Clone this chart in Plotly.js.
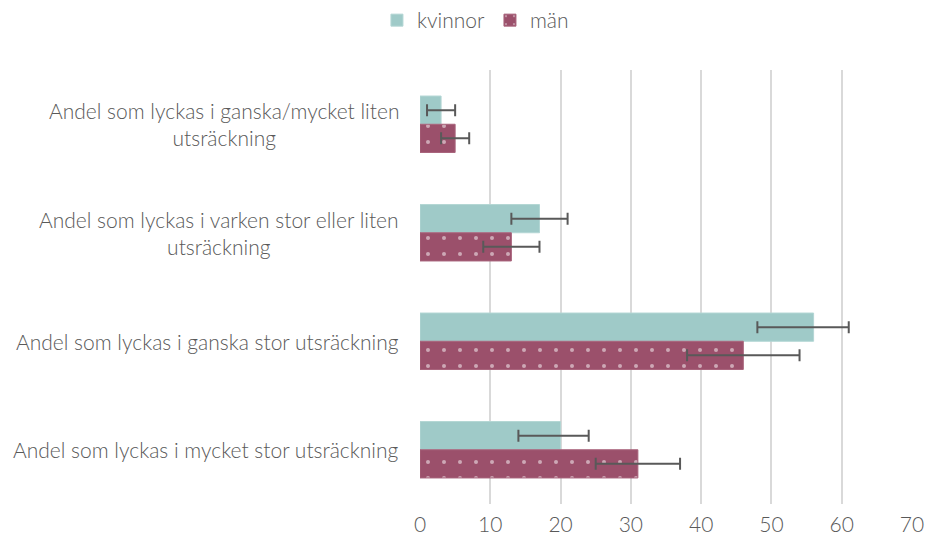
<!DOCTYPE html>
<html>
<head>
<meta charset="utf-8">
<script src="https://cdn.plot.ly/plotly-3.0.1.min.js"></script>
<style>html,body{margin:0;padding:0;background:#fff;}#chart{width:925px;height:540px;}</style>
</head>
<body>
<div id="chart"></div>
<script>
const categories = [
  "Andel som lyckas i ganska/mycket liten<br>utsräckning",
  "Andel som lyckas i varken stor eller liten<br>utsräckning",
  "Andel som lyckas i ganska stor utsräckning",
  "Andel som lyckas i mycket stor utsräckning"
];
const kvinnor = [3, 17, 56, 20];
const kvinnorErrPlus = [2, 4, 5, 4];
const kvinnorErrMinus = [2, 4, 8, 6];
const man = [5, 13, 46, 31];
const manErrPlus = [2, 4, 8, 6];
const manErrMinus = [2, 4, 8, 6];
const xTicks = [0, 10, 20, 30, 40, 50, 60, 70];

const FONT = "Lato, 'Open Sans', sans-serif";
const TXT = "#595959";

const errStyle = {type: "data", symmetric: false, color: "#595959", thickness: 2, width: 6};

const traces = [
  {
    type: "bar", orientation: "h", name: "kvinnor",
    y: categories, x: kvinnor,
    marker: {color: "#9FCAC8", line: {color: "#B3D6D4", width: 1}},
    error_x: Object.assign({array: kvinnorErrPlus, arrayminus: kvinnorErrMinus}, errStyle),
    hoverinfo: "x"
  },
  {
    type: "bar", orientation: "h", name: "män",
    y: categories, x: man,
    marker: {
      color: "#9B506B",
      line: {color: "#A8637B", width: 1},
      pattern: {shape: ".", fillmode: "overlay", fgcolor: "#ffffff", bgcolor: "#9B506B", size: 16, solidity: 0.05}
    },
    error_x: Object.assign({array: manErrPlus, arrayminus: manErrMinus}, errStyle),
    hoverinfo: "x"
  }
];

const annotations = categories.map(c => ({
  xref: "paper", yref: "y", x: 0, y: c, xanchor: "right", yanchor: "middle",
  xshift: -19, text: c, showarrow: false, align: "center",
  font: {family: FONT, size: 21, color: TXT, weight: 300}
}));

const layout = {
  width: 925, height: 540,
  margin: {l: 420, r: 13, t: 70, b: 36},
  paper_bgcolor: "#ffffff", plot_bgcolor: "#ffffff",
  barmode: "group", bargap: 0.48, bargroupgap: 0,
  font: {family: FONT, size: 20, color: TXT, weight: 300},
  showlegend: true,
  legend: {
    orientation: "h", xref: "container", yref: "container",
    x: 0.514, xanchor: "center", y: 1.0, yanchor: "top",
    font: {family: FONT, size: 21, color: TXT, weight: 300},
    itemwidth: 30
  },
  xaxis: {
    range: [0, 70], tickvals: xTicks, ticktext: xTicks.map(String),
    showgrid: true, gridcolor: "#D9D9D9", gridwidth: 2,
    zeroline: false, showline: false,
    ticks: "outside", ticklen: 0, ticklabelstandoff: 2,
    tickfont: {family: FONT, size: 21, color: TXT, weight: 300},
    fixedrange: true
  },
  yaxis: {
    type: "category", autorange: "reversed",
    showticklabels: false, showgrid: false, zeroline: false, showline: false,
    fixedrange: true
  },
  annotations: annotations
};

Plotly.newPlot("chart", traces, layout, {displayModeBar: false, staticPlot: true});
</script>
</body>
</html>
